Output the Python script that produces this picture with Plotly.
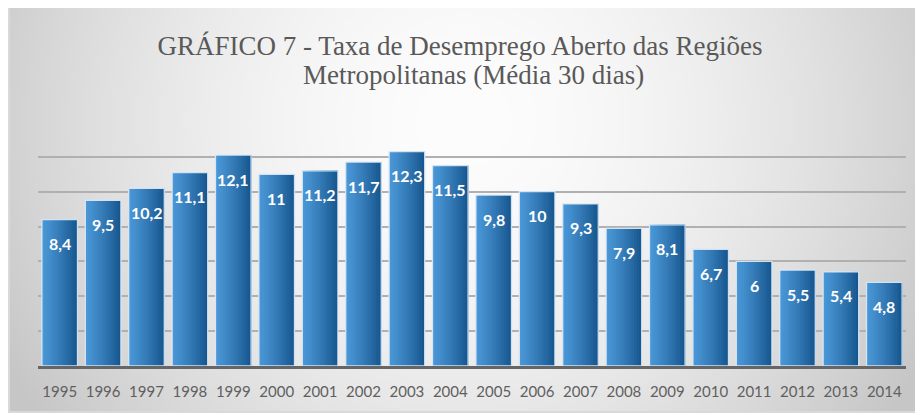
import plotly.graph_objects as go
import numpy as np
import zlib, struct, base64

years = ["1995","1996","1997","1998","1999","2000","2001","2002","2003","2004",
         "2005","2006","2007","2008","2009","2010","2011","2012","2013","2014"]
rates = [8.4, 9.5, 10.2, 11.1, 12.1, 11.0, 11.2, 11.7, 12.3, 11.5,
         9.8, 10.0, 9.3, 7.9, 8.1, 6.7, 6.0, 5.5, 5.4, 4.8]
labels = [f"{v:g}".replace(".", ",") for v in rates]
title_line1 = "GRÁFICO 7 - Taxa de Desemprego Aberto das Regiões"
title_line2 = "Metropolitanas (Média 30 dias)"

# page body has an 8px margin, so the figure is sized to fill the rest of the window
W, H = 915, 407
L, R, T, B = 30, 17, 114, 49
pw, ph = W - L - R, H - T - B

def make_png(w, h):
    yy, xx = np.mgrid[0:h, 0:w]
    cx, cy = w * 0.5, h * 0.28
    d = np.sqrt(((xx - cx) / (w * 0.58)) ** 2 + ((yy - cy) / (h * 1.25)) ** 2)
    d = np.clip(d, 0, 1)
    v = (253 - (253 - 198) * d ** 1.7).astype(np.uint8)
    raw = b"".join(b"\x00" + bytes(np.stack([v[r], v[r], v[r]], axis=1).flatten()) for r in range(h))
    def chunk(t, data):
        c = struct.pack(">I", len(data)) + t + data
        return c + struct.pack(">I", zlib.crc32(t + data) & 0xffffffff)
    png = b"\x89PNG\r\n\x1a\n" + chunk(b"IHDR", struct.pack(">IIBBBBB", w, h, 8, 2, 0, 0, 0))
    png += chunk(b"IDAT", zlib.compress(raw, 9)) + chunk(b"IEND", b"")
    return "data:image/png;base64," + base64.b64encode(png).decode()

def px2x(p):
    return (p - L) / pw
def py2y(p):
    return (H - B - p) / ph

fx0, fx1, fy0, fy1 = 0, 908, -2, 404

fig = go.Figure()

# bars drawn as overlapping layers (each reaching the right edge) to imitate the gradient
bar_w = 0.82
n_str = 14
c0 = np.array([0x4a, 0x96, 0xd6])
c1 = np.array([0x18, 0x58, 0x90])
for k in range(n_str):
    t = k / (n_str - 1)
    c = (c0 + (c1 - c0) * t ** 1.2).astype(int)
    fig.add_trace(go.Bar(
        x=years, y=rates, width=bar_w * (1 - k / n_str),
        offset=-bar_w / 2 + k * bar_w / n_str,
        marker=dict(color=f"rgb({c[0]},{c[1]},{c[2]})", line=dict(width=0)),
        hoverinfo="skip",
    ))
fig.add_trace(go.Bar(
    x=years, y=rates, width=bar_w, offset=-bar_w / 2,
    marker=dict(color="rgba(0,0,0,0)", line=dict(color="rgba(215,232,248,0.95)", width=1.3)),
    hoverinfo="skip",
))

for i, (v, lab) in enumerate(zip(rates, labels)):
    fig.add_annotation(x=i, y=v, xref="x", yref="y", text=f"<b>{lab}</b>", showarrow=False,
                       yanchor="middle", yshift=-24,
                       font=dict(family="Lato", size=16, color="white"))

fig.add_annotation(xref="paper", yref="paper", x=(465 - L) / pw, y=py2y(67),
                   yanchor="middle", xanchor="center", text=title_line2, showarrow=False,
                   font=dict(family="Liberation Serif", size=27, color="#595959"))

fig.add_layout_image(dict(
    source=make_png(300, 140), xref="paper", yref="paper",
    x=px2x(fx0), y=py2y(fy0), sizex=px2x(fx1) - px2x(fx0), sizey=py2y(fy0) - py2y(fy1),
    xanchor="left", yanchor="top", sizing="stretch", layer="below"))

fig.add_shape(type="rect", xref="paper", yref="paper",
              x0=px2x(fx0 + 1), x1=px2x(fx1), y0=py2y(fy1), y1=py2y(fy0 + 1),
              line=dict(color="#d9d9d9", width=2), layer="below")

fig.update_layout(
    width=W, height=H,
    margin=dict(l=L, r=R, t=T, b=B),
    paper_bgcolor="white", plot_bgcolor="rgba(0,0,0,0)",
    barmode="overlay",
    showlegend=False,
    title=dict(text=title_line1,
               x=452 / W, xanchor="center", y=1 - 38 / H, yanchor="middle",
               font=dict(family="Liberation Serif", size=27, color="#595959")),
    xaxis=dict(type="category", range=[-0.5, 19.5], showline=True, linecolor="#666666",
               linewidth=3, ticks="", ticklabelstandoff=10,
               tickfont=dict(family="Lato", size=15, color="#5f5f5f"),
               showgrid=False, fixedrange=True),
    yaxis=dict(range=[0, 14], dtick=2, showticklabels=False, showgrid=True,
               gridcolor="#b0b0b0", gridwidth=1.5, zeroline=False, fixedrange=True),
)

fig.write_html("out.html")
